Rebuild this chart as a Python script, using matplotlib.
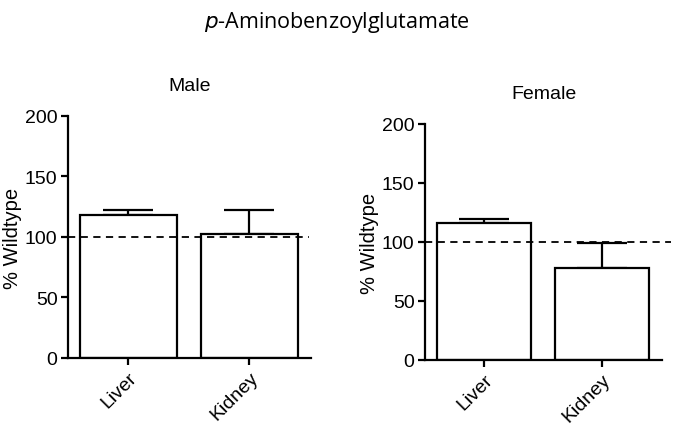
import matplotlib.pyplot as plt

tissues = ['Liver', 'Kidney']
male_mean = [118.5, 102.5]
male_err = [3.5, 19.5]
female_mean = [116.0, 78.0]
female_err = [3.5, 21.5]

plt.rcParams['font.family'] = ['Liberation Sans', 'DejaVu Sans']

fig = plt.figure(figsize=(6.74, 4.27), dpi=100)
fig.text(0.5, 0.948, r'$\mathit{p}$-Aminobenzoylglutamate', ha='center', va='center',
         fontsize=15.5, family=['Open Sans', 'DejaVu Sans'])

ax_m = fig.add_axes([0.1009, 0.1593, 0.3605, 0.5667])
ax_f = fig.add_axes([0.6306, 0.1546, 0.3516, 0.5527])

lw = 1.6
for ax, means, errs, title, xext in [(ax_m, male_mean, male_err, 'Male', 0.99),
                                     (ax_f, female_mean, female_err, 'Female', 1.04)]:
    x = range(len(tissues))
    ax.bar(x, means, width=0.8, color='white', edgecolor='black', linewidth=lw, zorder=2)
    ax.errorbar(x, means, yerr=[[0] * len(errs), errs], fmt='none', ecolor='black',
                elinewidth=lw, capsize=18, capthick=lw, zorder=1)
    ax.axhline(100, xmin=0, xmax=xext, color='black', linestyle=(0, (4, 3)),
               linewidth=1.3, clip_on=False, zorder=3)
    ax.set_xlim(-0.5, 1.51)
    ax.set_ylim(0, 200)
    ax.set_yticks([0, 50, 100, 150, 200])
    ax.set_xticks(list(x))
    ax.set_xticklabels(tissues, rotation=45, ha='right', rotation_mode='anchor')
    ax.spines['top'].set_visible(False)
    ax.spines['right'].set_visible(False)
    ax.spines['left'].set_linewidth(lw)
    ax.spines['bottom'].set_linewidth(lw)
    ax.tick_params(width=lw, length=5, labelsize=14, pad=2.5)
    ax.set_ylabel('% Wildtype', fontsize=14.5, labelpad=2)
    ax.set_title(title, fontsize=14, pad=19)

fig.savefig('out.png', dpi=100)
